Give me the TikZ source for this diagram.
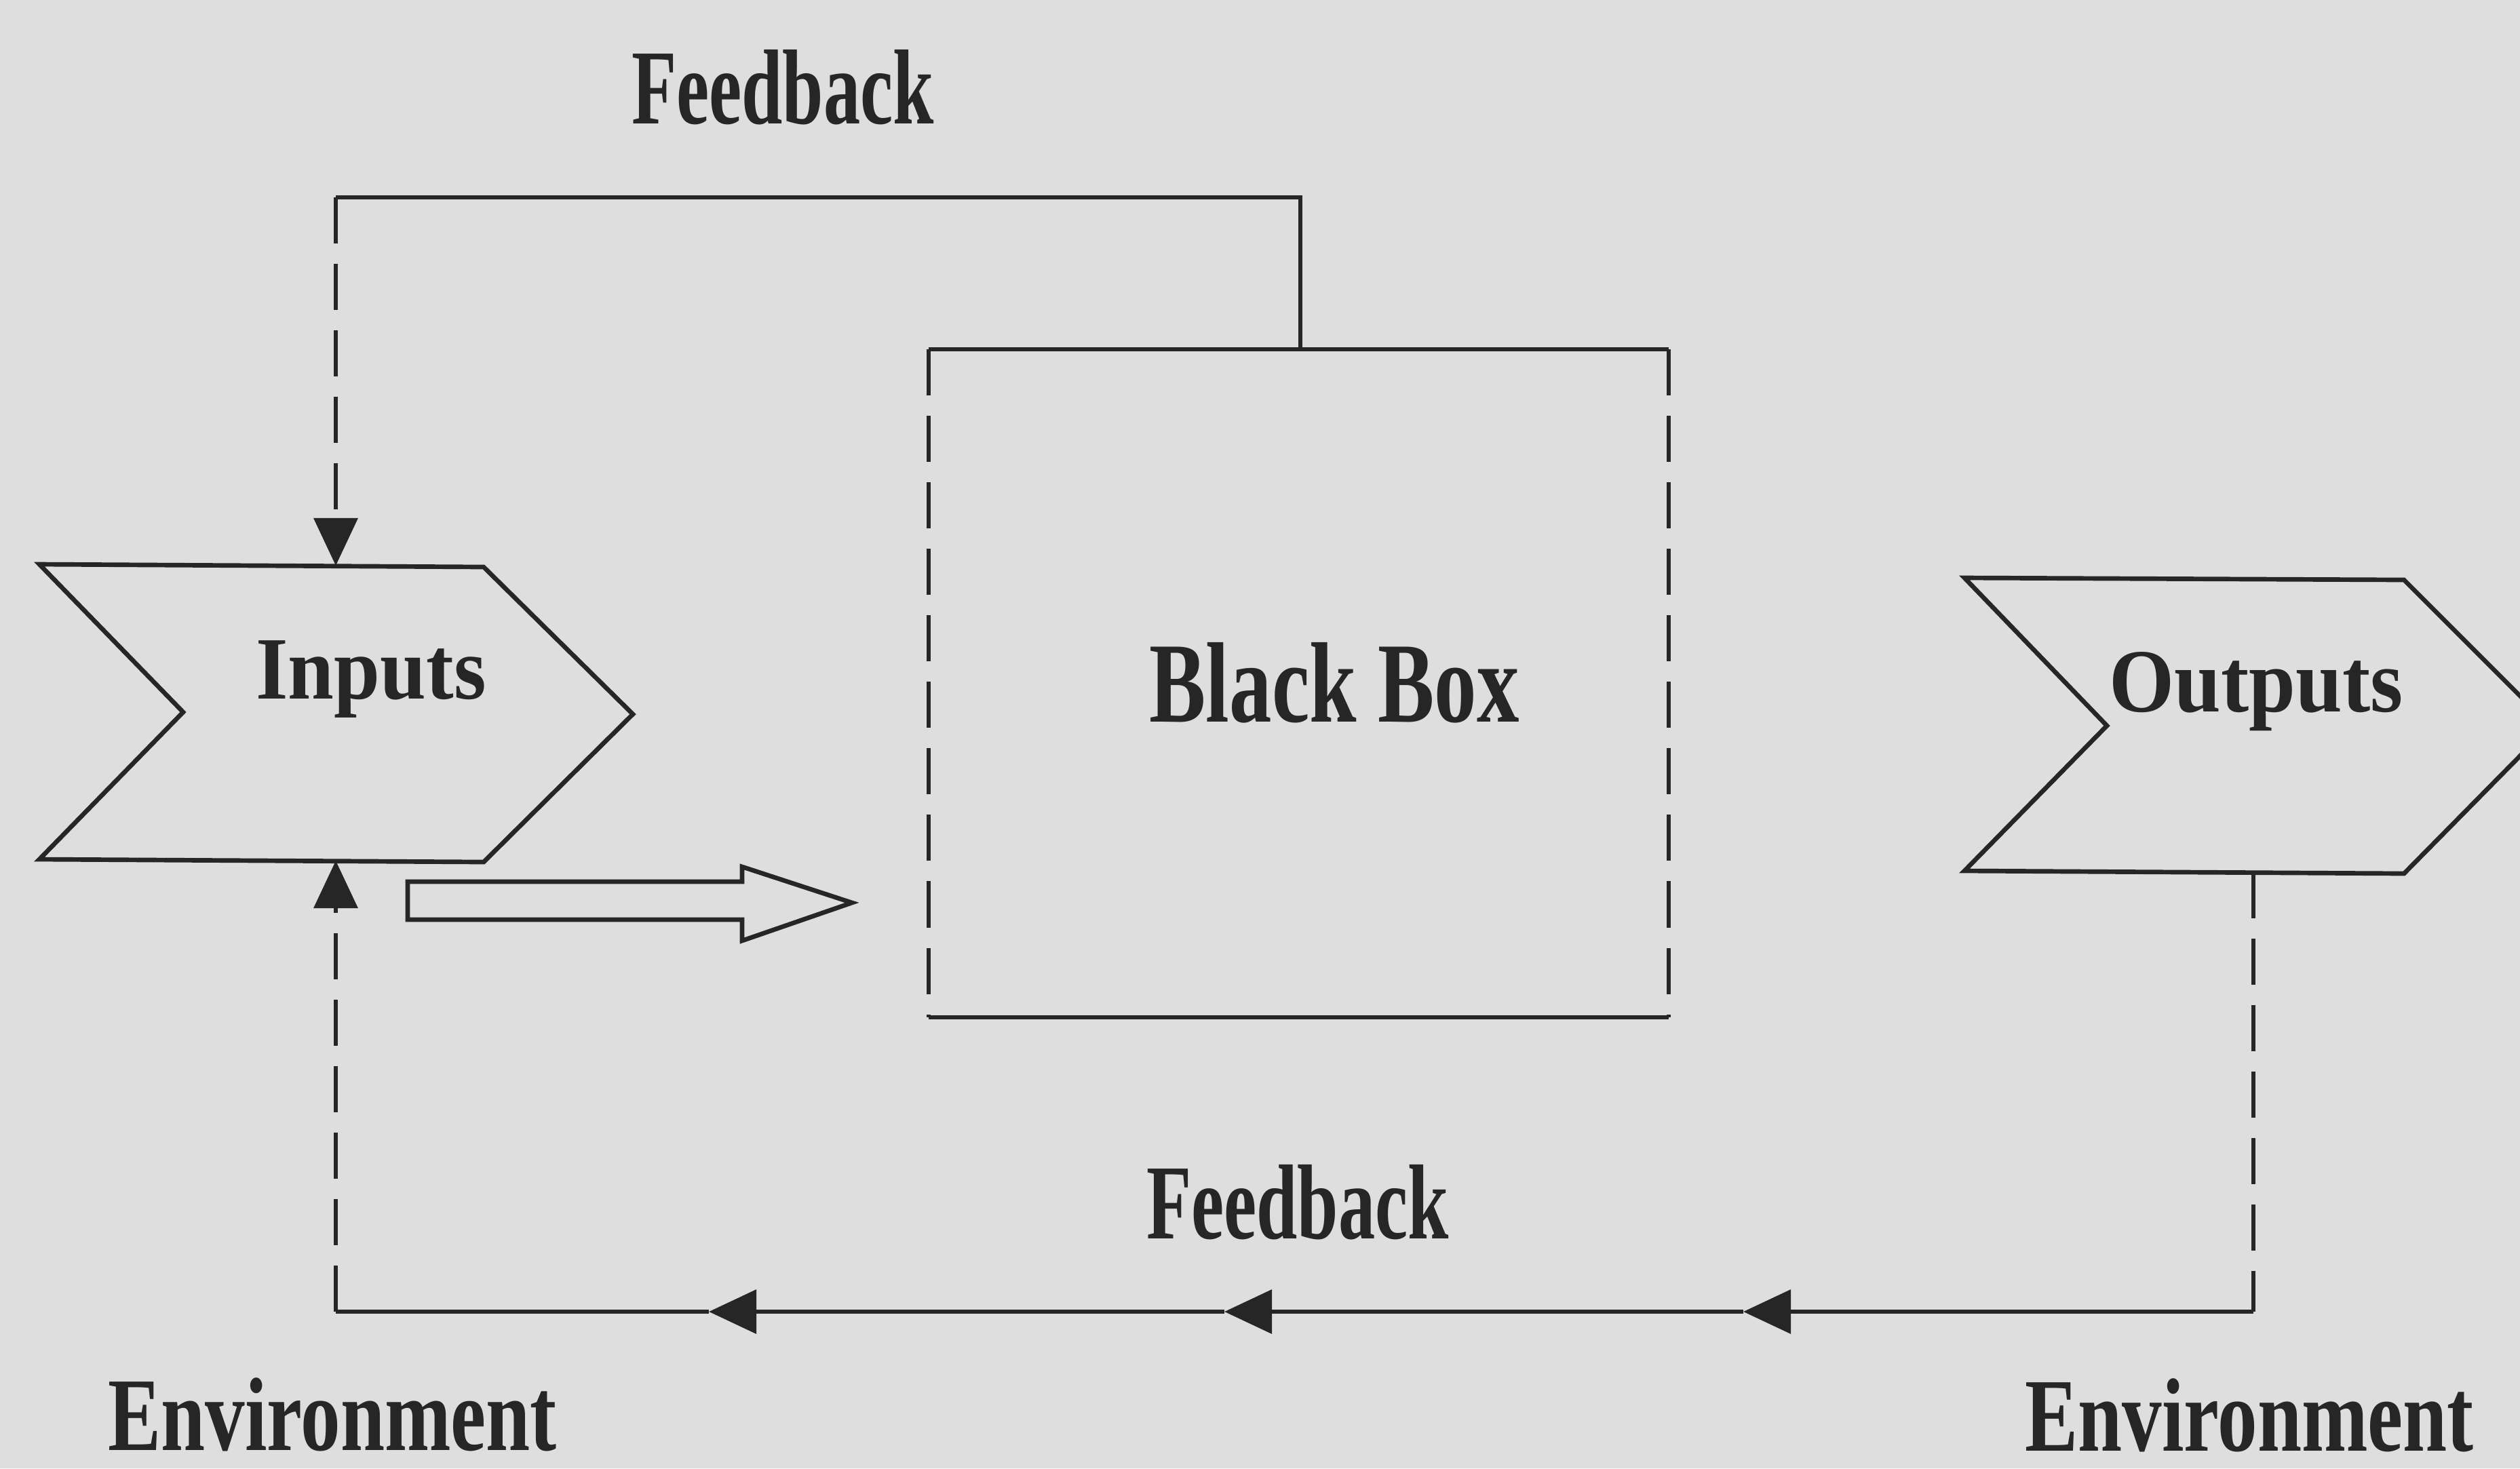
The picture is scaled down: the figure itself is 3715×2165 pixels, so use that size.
\documentclass[tikz,border=0pt]{standalone}
\usepackage{fontspec}
\setmainfont{Liberation Serif}
\usetikzlibrary{arrows.meta}
\definecolor{bg}{RGB}{222,222,222}
\definecolor{ink}{RGB}{38,38,38}
\newcommand{\lbl}[3]{\scalebox{#2}[1]{\fontsize{#1pt}{#1pt}\selectfont\bfseries #3}}
\begin{document}
\begin{tikzpicture}[x=0.01cm,y=-0.01cm,
  ln/.style={draw=ink,line width=1.9pt},
  dsh/.style={ln,dash pattern=on 0.68cm off 0.3cm},
  tip/.style={-{Triangle[length=0.7cm,width=0.64cm]}},
  txt/.style={anchor=base,inner sep=0pt,text=ink}]
\fill[bg] (0,0) rectangle (3715,2165);
\useasboundingbox (0,0) rectangle (3715,2165);
% Inputs chevron
\draw[ln,line join=miter] (58,832) -- (713,836) -- (933,1053) -- (713,1271) -- (58,1267) -- (270,1050) -- cycle;
\coordinate (intop) at (495,834);
\coordinate (inbot) at (495,1269);
% Outputs chevron
\draw[ln,line join=miter] (2896,852) -- (3544,855) -- (3759,1070) -- (3544,1288) -- (2896,1284) -- (3106,1070) -- cycle;
\coordinate (outbot) at (3322,1286);
% Black box
\node[minimum width=10.89cm,minimum height=9.83cm,inner sep=0pt] (bb) at (1914.5,1007.5) {};
\draw[ln] (bb.north west) -- (bb.north east);
\draw[ln] (bb.south west) -- (bb.south east);
\draw[dsh] (bb.north west) -- (bb.south west);
\draw[dsh] (bb.north east) -- (bb.south east);
% top feedback loop
\coordinate (tr) at (1917,291);
\coordinate (tl) at (495,291);
\draw[ln] (bb.north -| tr) -- (tr) -- (tl);
\draw[dsh,tip] (tl) -- (intop);
% bottom feedback loop
\coordinate (br) at (3322,1934);
\coordinate (c3) at (2570,1934);
\coordinate (c2) at (1805,1934);
\coordinate (c1) at (1045,1934);
\coordinate (bl) at (495,1934);
\draw[dsh] (outbot) -- (br);
\draw[ln,tip] (br) -- (c3);
\draw[ln,tip] (c3) -- (c2);
\draw[ln,tip] (c2) -- (c1);
\draw[ln] (c1) -- (bl);
\draw[dsh,tip] (bl) -- (inbot);
% hollow arrow
\draw[ln,fill=bg,line join=miter] (601,1300) -- (1094,1300) -- (1094,1278) -- (1256,1331) -- (1094,1387) -- (1094,1356) -- (601,1356) -- cycle;
% labels
\node[txt] (fbtop) at (1154,182) {\lbl{44.7}{0.69}{Feedback}};
\node[txt] (inlbl) at (547,1030) {\lbl{37.3}{0.93}{Inputs}};
\node[txt] (bblbl) at (1967,1064) {\lbl{48}{0.74}{Black Box}};
\node[txt] (outlbl) at (3326,1049) {\lbl{37.8}{0.93}{Outputs}};
\node[txt] (fbbot) at (1913,1826) {\lbl{44.7}{0.69}{Feedback}};
\node[txt] (envl) at (490,2138) {\lbl{43.8}{0.76}{Environment}};
\node[txt] (envr) at (3316,2139) {\lbl{43.8}{0.76}{Environment}};
\end{tikzpicture}
\end{document}
